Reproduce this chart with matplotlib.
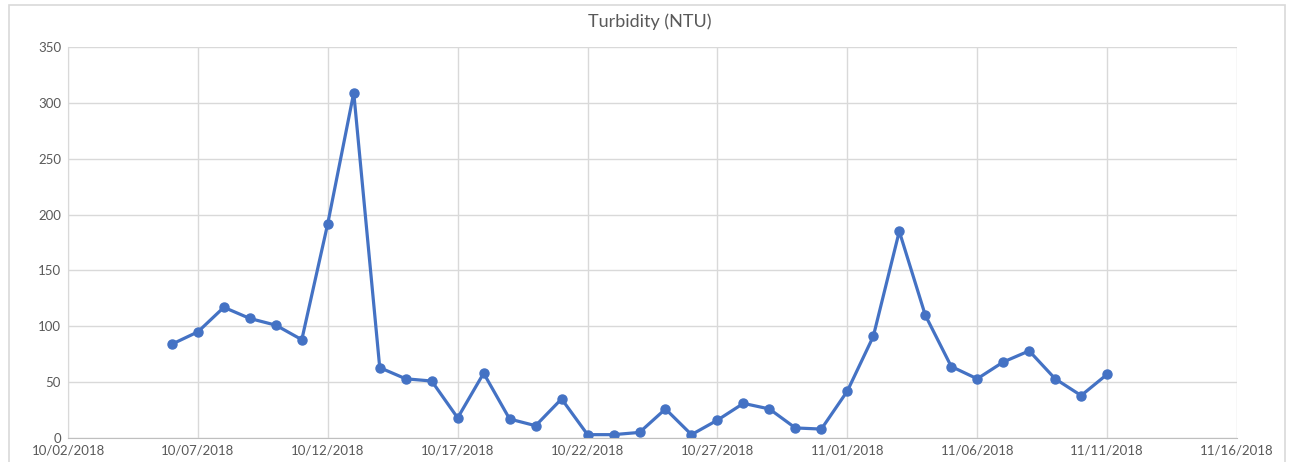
import numpy as np
import pandas as pd
import matplotlib
matplotlib.use("Agg")
import matplotlib.pyplot as plt
import matplotlib.dates as mdates
from matplotlib.patches import Rectangle

# Daily turbidity readings, 10/06/2018 - 11/11/2018
start_date = "2018-10-06"
turbidity = [84, 95, 117, 107, 101, 88, 192, 309, 63, 53, 51, 18, 58, 17, 11,
             35, 3, 3, 5, 26, 3, 16, 31, 26, 9, 8, 42, 91, 185, 110, 64, 53,
             68, 78, 53, 38, 57]
dates = pd.date_range(start_date, periods=len(turbidity), freq="D")

x_min, x_max = pd.Timestamp("2018-10-02"), pd.Timestamp("2018-11-16")
y_ticks = [0, 50, 100, 150, 200, 250, 300, 350]

plt.rcParams['font.family'] = ['Lato', 'DejaVu Sans']
text_color = '#595959'
grid_color = '#d9d9d9'
line_color = '#4472C4'

fig = plt.figure(figsize=(12.89, 4.62), dpi=100)
ax = fig.add_axes([68 / 1289, 24 / 462, 1169 / 1289, 391 / 462])

ax.plot(dates, turbidity, color=line_color, linewidth=2.3, marker='o',
        markersize=6.5, markerfacecolor=line_color, markeredgecolor=line_color)

ax.set_xlim(x_min, x_max)
ax.set_ylim(0, 350)
ax.set_yticks(y_ticks)
ax.set_xticks(pd.date_range(x_min, x_max, freq="5D"))
ax.xaxis.set_major_formatter(mdates.DateFormatter("%m/%d/%Y"))

ax.grid(True, color=grid_color, linewidth=1.0)
ax.set_axisbelow(True)
for side in ['top', 'right']:
    ax.spines[side].set_visible(False)
ax.spines['left'].set_color(grid_color)
ax.spines['bottom'].set_color('#bfbfbf')
ax.tick_params(length=0, colors=text_color, labelsize=9.5, pad=5)

fig.text(650 / 1289, 1 - 22 / 462, "Turbidity (NTU)", ha='center', va='center',
         fontsize=13, color=text_color)

fig.patches.append(Rectangle((9 / 1289, -0.01), 1276 / 1289, 1 - 5 / 462 + 0.01,
                             transform=fig.transFigure, fill=False,
                             edgecolor=grid_color, linewidth=1.2))

fig.savefig("out.png", dpi=100)
